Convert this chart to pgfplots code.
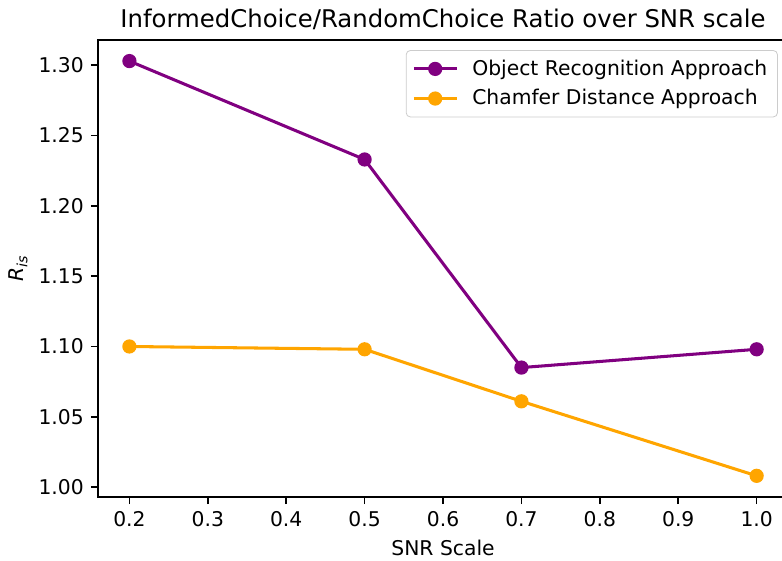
\documentclass[border=0pt]{standalone}
\usepackage{fontspec}
\setmainfont{DejaVu Sans}
\usepackage{pgfplots}
\pgfplotsset{compat=1.18}
\definecolor{mpurple}{HTML}{800080}
\definecolor{morange}{HTML}{FFA500}
\begin{document}
\fontsize{10}{12}\selectfont
\begin{tikzpicture}
\begin{axis}[
  scale only axis, width=339.9pt, height=225.1pt,
  xmin=0.16, xmax=1.04, ymin=0.993, ymax=1.318,
  xtick={0.2,0.3,0.4,0.5,0.6,0.7,0.8,0.9,1.0},
  ytick={1.00,1.05,1.10,1.15,1.20,1.25,1.30},
  /pgf/number format/assume math mode=true,
  xticklabel style={/pgf/number format/fixed,/pgf/number format/fixed zerofill,/pgf/number format/precision=1},
  yticklabel style={/pgf/number format/fixed,/pgf/number format/fixed zerofill,/pgf/number format/precision=2},
  scaled ticks=false,
  tick pos=left, tick align=outside, major tick length=3.5pt,
  tick style={line width=0.8pt, black},
  axis line style={line width=0.8pt},
  title={InformedChoice/RandomChoice Ratio over SNR scale},
  title style={at={(axis description cs:0.5,1)}, anchor=base, yshift=0pt, font=\fontsize{12}{14}\selectfont},
  xlabel={SNR Scale},
  ylabel={\itshape R\textsubscript{is}},
  ylabel style={yshift=-1.5pt},
  legend cell align=left,
  legend style={at={(axis description cs:1,1)}, anchor=north east, xshift=-5pt, yshift=-5pt,
    draw=black!20, rounded corners=2pt, fill=white,
    row sep=1.5pt, inner xsep=3pt, inner ysep=2.5pt,
    /tikz/every odd column/.append style={column sep=5pt},
    font=\fontsize{10}{12}\selectfont},
  legend image code/.code={\draw[mark repeat=2,mark phase=2] plot coordinates {(0cm,0cm) (0.37cm,0cm) (0.74cm,0cm)};},
]
\addplot[mpurple, line width=1.5pt, mark=*, mark size=3pt, mark options={solid, line width=1pt}] coordinates {
  (0.2,1.303) (0.5,1.233) (0.7,1.085) (1.0,1.098)};
\addlegendentry{Object Recognition Approach}
\addplot[morange, line width=1.5pt, mark=*, mark size=3pt, mark options={solid, line width=1pt}] coordinates {
  (0.2,1.100) (0.5,1.098) (0.7,1.061) (1.0,1.008)};
\addlegendentry{Chamfer Distance Approach}
\end{axis}
\pgfresetboundingbox
\useasboundingbox ([xshift=-48.3pt,yshift=-31.5pt]current axis.south west) rectangle ([xshift=-2.96pt,yshift=19.7pt]current axis.north east);
\end{tikzpicture}
\end{document}
